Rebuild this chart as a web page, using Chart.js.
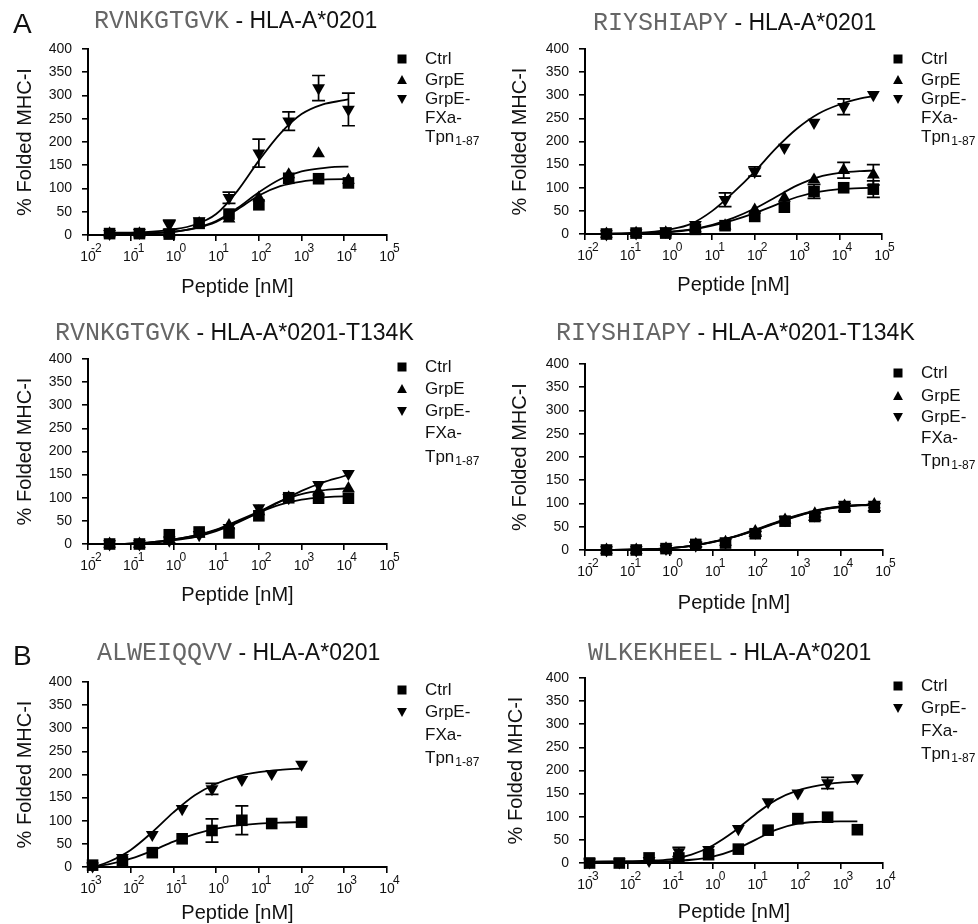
<!DOCTYPE html>
<html>
<head>
<meta charset="utf-8">
<script src="https://cdn.jsdelivr.net/npm/chart.js@4.4.0/dist/chart.umd.min.js"></script>
<style>
    body { margin: 0; background: #fff; width: 978px; height: 924px; position: relative; overflow: hidden; }
    canvas { position: absolute; }
</style>
</head>
<body>
<canvas id="c1"></canvas>
<canvas id="c2"></canvas>
<canvas id="c3"></canvas>
<canvas id="c4"></canvas>
<canvas id="c5"></canvas>
<canvas id="c6"></canvas>
<script>
// Peptide titration curves - folded MHC-I vs peptide concentration

// Decade ticks for the log x axes
const decadesA = [1e-2, 1e-1, 1e0, 1e1, 1e2, 1e3, 1e4, 1e5];
const decadesB = [1e-3, 1e-2, 1e-1, 1e0, 1e1, 1e2, 1e3, 1e4];

// Legend names
const legendCtrl = ['Ctrl'];
const legendGrpE = ['GrpE'];
const legendFXa = ['GrpE-', 'FXa-', 'Tpn'];
const legendFXaSub = '1-87';

// Peptide concentrations (nM)
const concA = [0.032, 0.16, 0.8, 4, 20, 100, 500, 2500, 12500];
const concB = [0.032, 0.16, 0.8, 4, 20, 100, 500, 2500, 12500, 62500];
const concC = [0.00128, 0.0064, 0.032, 0.16, 0.8, 4, 20, 100];
const concD = [0.00128, 0.0064, 0.032, 0.16, 0.8, 4, 20, 100, 500, 2500];

// x positions where the fitted curves were read
const fitXA = [0.032, 0.1, 0.316, 1, 3.16, 10, 31.6, 100, 316, 1000, 3162, 10000, 12500];
const fitXB = [0.032, 0.1, 0.316, 1, 3.16, 10, 31.6, 100, 316, 1000, 3162, 10000, 31623, 62500];
const fitXC = [0.00135, 0.00316, 0.01, 0.0316, 0.1, 0.316, 1, 3.16, 10, 31.6, 100];
const fitXD = [0.00128, 0.01, 0.0316, 0.1, 0.316, 1, 3.16, 10, 31.6, 100, 316, 1000, 2500];

// Panel 1: RVNKGTGVK - HLA-A*0201
const ctrl1 = [3, 3, 2, 25, 45, 65, 122, 121, 112];
const ctrl1Err = [0, 0, 0, 0, 0, 0, 0, 0, 0];
const grpE1 = [3, 3, 3, 25, 35, 80, 130, 175, 118];
const grpE1Err = [0, 0, 0, 0, 0, 0, 0, 0, 0];
const fxa1 = [3, 5, 22, 30, 80, 176, 245, 316, 270];
const fxa1Err = [0, 0, 10, 0, 12, 30, 20, 27, 35];
const fitCtrl1 = [3, 3, 4, 7, 14, 28, 55, 85, 105, 115, 119, 120, 120];
const fitGrpE1 = [3, 3, 4, 7, 15, 30, 58, 92, 120, 137, 144, 147, 147];
const fitFxa1 = [5, 5, 7, 12, 22, 45, 95, 160, 218, 260, 281, 290, 292];

// Panel 2: RIYSHIAPY - HLA-A*0201
const ctrl2 = [0, 2, 2, 10, 18, 38, 58, 92, 100, 97];
const ctrl2Err = [0, 0, 0, 0, 0, 0, 0, 15, 0, 18];
const grpE2 = [0, 2, 3, 12, 18, 52, 78, 117, 138, 128];
const grpE2Err = [0, 0, 0, 0, 0, 0, 0, 0, 17, 22];
const fxa2 = [0, 2, 6, 20, 74, 135, 187, 241, 275, 301];
const fxa2Err = [0, 0, 0, 0, 15, 10, 0, 0, 17, 0];
const fitCtrl2 = [0, 1, 2, 4, 9, 18, 30, 45, 63, 80, 91, 97, 99, 100];
const fitGrpE2 = [0, 1, 2, 5, 10, 20, 35, 55, 80, 105, 123, 132, 136, 137];
const fitFxa2 = [1, 2, 4, 10, 22, 50, 90, 135, 185, 228, 260, 280, 293, 298];

// Panel 3: RVNKGTGVK - HLA-A*0201-T134K
const ctrl3 = [0, 0, 20, 26, 24, 61, 100, 99, 99];
const grpE3 = [0, 0, 10, 22, 40, 70, 100, 113, 120];
const fxa3 = [0, 0, 8, 20, 35, 78, 100, 128, 152];
const noErr9 = [0, 0, 0, 0, 0, 0, 0, 0, 0];
const fitCtrl3 = [0, 1, 4, 10, 18, 30, 48, 68, 85, 96, 101, 103, 103];
const fitGrpE3 = [0, 1, 4, 10, 18, 31, 50, 70, 92, 108, 116, 120, 121];
const fitFxa3 = [0, 1, 3, 8, 15, 28, 46, 68, 92, 115, 133, 147, 150];

// Panel 4: RIYSHIAPY - HLA-A*0201-T134K
const ctrl4 = [0, 0, 3, 12, 15, 35, 62, 72, 92, 92];
const ctrl4Err = [0, 0, 0, 5, 0, 5, 0, 8, 8, 8];
const grpE4 = [0, 0, 3, 12, 17, 40, 65, 78, 95, 98];
const fxa4 = [0, 0, 3, 10, 16, 38, 65, 75, 98, 98];
const noErr10 = [0, 0, 0, 0, 0, 0, 0, 0, 0, 0];
const fitCtrl4 = [0, 1, 2, 4, 9, 17, 28, 42, 58, 73, 85, 92, 96, 97];
const fitGrpE4 = [0, 1, 2, 4, 9, 18, 29, 44, 60, 75, 87, 94, 97, 98];
const fitFxa4 = [0, 1, 2, 4, 9, 17, 28, 43, 59, 74, 86, 93, 97, 98];

// Panel 5: ALWEIQQVV - HLA-A*0201
const ctrl5 = [4, 11, 31, 61, 79, 101, 94, 97];
const ctrl5Err = [0, 0, 0, 0, 25, 31, 0, 0];
const fxa5 = [2, 20, 70, 126, 169, 189, 202, 222];
const fxa5Err = [0, 0, 0, 0, 12, 0, 0, 0];
const fitCtrl5 = [0, 6, 18, 35, 55, 71, 83, 90, 94, 96, 97];
const fitFxa5 = [0, 12, 37, 75, 118, 155, 180, 196, 205, 210, 213];

// Panel 6: WLKEKHEEL - HLA-A*0201
const ctrl6 = [0, 0, 11, 11, 18, 30, 71, 96, 99, 72];
const fxa6 = [2, 2, 5, 24, 29, 74, 132, 151, 173, 184];
const fxa6Err = [0, 0, 0, 10, 0, 0, 0, 0, 12, 0];
const fitCtrl6 = [2, 2, 3, 4, 7, 14, 28, 50, 72, 85, 89, 90, 90];
const fitFxa6 = [3, 4, 5, 8, 18, 38, 68, 105, 137, 157, 168, 174, 176];

const SANS = '"Liberation Sans", Arial, sans-serif';
const MONO = '"Liberation Mono", "Courier New", monospace';
const INK = '#111';

// Layout of each panel (absolute page pixels)
const panels = [
    {
        id: 'c1', box: [0, 0, 489, 305], area: [88, 49, 387, 235], decades: decadesA,
        letter: 'A', letterPos: [13, 33], mono: 'RVNKGTGVK', sans: ' - HLA-A*0201', titlePos: [94, 28],
        legendX: [402, 425], legendRows: [59, 80, 99, 118, 137], xTitleY: 287, yTitleX: 25,
        series: [
            { kind: 'rect', legend: legendCtrl, x: concA, y: ctrl1, err: ctrl1Err, fx: fitXA, fy: fitCtrl1 },
            { kind: 'up', legend: legendGrpE, x: concA, y: grpE1, err: grpE1Err, fx: fitXA, fy: fitGrpE1 },
            { kind: 'down', legend: legendFXa, x: concA, y: fxa1, err: fxa1Err, fx: fitXA, fy: fitFxa1 }
        ]
    },
    {
        id: 'c2', box: [489, 0, 489, 305], area: [585, 49, 882, 234], decades: decadesA,
        mono: 'RIYSHIAPY', sans: ' - HLA-A*0201', titlePos: [593, 30],
        legendX: [898, 921], legendRows: [59, 80, 99, 118, 137], xTitleY: 285, yTitleX: 520,
        series: [
            { kind: 'rect', legend: legendCtrl, x: concB, y: ctrl2, err: ctrl2Err, fx: fitXB, fy: fitCtrl2 },
            { kind: 'up', legend: legendGrpE, x: concB, y: grpE2, err: grpE2Err, fx: fitXB, fy: fitGrpE2 },
            { kind: 'down', legend: legendFXa, x: concB, y: fxa2, err: fxa2Err, fx: fitXB, fy: fitFxa2 }
        ]
    },
    {
        id: 'c3', box: [0, 300, 489, 315], area: [88, 359, 387, 544], decades: decadesA,
        mono: 'RVNKGTGVK', sans: ' - HLA-A*0201-T134K', titlePos: [55, 340],
        legendX: [402, 425], legendRows: [367, 389, 411, 433, 457], xTitleY: 595, yTitleX: 25,
        series: [
            { kind: 'rect', legend: legendCtrl, x: concA, y: ctrl3, err: noErr9, fx: fitXA, fy: fitCtrl3 },
            { kind: 'up', legend: legendGrpE, x: concA, y: grpE3, err: noErr9, fx: fitXA, fy: fitGrpE3 },
            { kind: 'down', legend: legendFXa, x: concA, y: fxa3, err: noErr9, fx: fitXA, fy: fitFxa3 }
        ]
    },
    {
        id: 'c4', box: [489, 300, 489, 315], area: [585, 364, 883, 550], decades: decadesA,
        mono: 'RIYSHIAPY', sans: ' - HLA-A*0201-T134K', titlePos: [556, 340],
        legendX: [898, 921], legendRows: [373, 396, 417, 438, 461], xTitleY: 603, yTitleX: 520,
        series: [
            { kind: 'rect', legend: legendCtrl, x: concB, y: ctrl4, err: ctrl4Err, fx: fitXB, fy: fitCtrl4 },
            { kind: 'up', legend: legendGrpE, x: concB, y: grpE4, err: noErr10, fx: fitXB, fy: fitGrpE4 },
            { kind: 'down', legend: legendFXa, x: concB, y: fxa4, err: noErr10, fx: fitXB, fy: fitFxa4 }
        ]
    },
    {
        id: 'c5', box: [0, 610, 489, 314], area: [88, 682, 387, 867], decades: decadesB,
        letter: 'B', letterPos: [13, 665], mono: 'ALWEIQQVV', sans: ' - HLA-A*0201', titlePos: [97, 660],
        legendX: [402, 425], legendRows: [690, 712, 735, 758], xTitleY: 913, yTitleX: 25,
        series: [
            { kind: 'rect', legend: legendCtrl, x: concC, y: ctrl5, err: ctrl5Err, fx: fitXC, fy: fitCtrl5 },
            { kind: 'down', legend: legendFXa, x: concC, y: fxa5, err: fxa5Err, fx: fitXC, fy: fitFxa5 }
        ]
    },
    {
        id: 'c6', box: [489, 610, 489, 314], area: [585, 678, 883, 863], decades: decadesB,
        mono: 'WLKEKHEEL', sans: ' - HLA-A*0201', titlePos: [588, 660],
        legendX: [898, 921], legendRows: [686, 708, 731, 754], xTitleY: 912, yTitleX: 516,
        series: [
            { kind: 'rect', legend: legendCtrl, x: concD, y: ctrl6, err: noErr10, fx: fitXD, fy: fitCtrl6 },
            { kind: 'down', legend: legendFXa, x: concD, y: fxa6, err: fxa6Err, fx: fitXD, fy: fitFxa6 }
        ]
    }
];

// Small filled marker for the legend
function drawMarker(ctx, kind, x, y, s) {
    ctx.beginPath();
    if (kind === 'rect') {
        ctx.rect(x - s, y - s, 2 * s, 2 * s);
    } else if (kind === 'up') {
        ctx.moveTo(x, y - s * 1.1);
        ctx.lineTo(x + s * 1.1, y + s * 0.9);
        ctx.lineTo(x - s * 1.1, y + s * 0.9);
        ctx.closePath();
    } else {
        ctx.moveTo(x, y + s * 1.1);
        ctx.lineTo(x + s * 1.1, y - s * 0.9);
        ctx.lineTo(x - s * 1.1, y - s * 0.9);
        ctx.closePath();
    }
    ctx.fill();
}

function buildPanel(p) {
    const [ox, oy, w, h] = p.box;
    const [L, T, R, B] = p.area;
    const canvas = document.getElementById(p.id);
    canvas.width = w;
    canvas.height = h;
    canvas.style.left = ox + 'px';
    canvas.style.top = oy + 'px';

    const datasets = [];
    // fitted curves (drawn below the markers)
    p.series.forEach(s => {
        datasets.push({
            label: s.legend.join(' ') + ' fit',
            data: s.fx.map((x, i) => ({ x: x, y: s.fy[i] })),
            showLine: true,
            borderColor: '#000',
            borderWidth: 1.8,
            pointRadius: 0,
            cubicInterpolationMode: 'monotone',
            clip: false,
            order: 2
        });
    });
    // measured points
    p.series.forEach(s => {
        datasets.push({
            label: s.legend.join(' '),
            data: s.x.map((x, i) => ({ x: x, y: s.y[i] })),
            errors: s.err,
            showLine: false,
            pointStyle: s.kind === 'rect' ? 'rect' : 'triangle',
            pointRotation: s.kind === 'down' ? 180 : 0,
            pointRadius: s.kind === 'rect' ? 8.2 : 7.4,
            pointBackgroundColor: '#000',
            pointBorderColor: '#000',
            pointBorderWidth: 0,
            clip: false,
            order: 1
        });
    });

    const decor = {
        id: 'decor' + p.id,
        beforeDatasetsDraw(chart) {
            // error bars
            const ctx = chart.ctx;
            const ys = chart.scales.y;
            ctx.save();
            ctx.strokeStyle = '#000';
            ctx.lineWidth = 1.7;
            chart.data.datasets.forEach((ds, di) => {
                if (!ds.errors) return;
                const meta = chart.getDatasetMeta(di);
                ds.errors.forEach((e, j) => {
                    if (!e) return;
                    const pt = meta.data[j];
                    const v = ds.data[j].y;
                    const yTop = ys.getPixelForValue(v + e);
                    const yBot = ys.getPixelForValue(Math.max(0, v - e));
                    ctx.beginPath();
                    ctx.moveTo(pt.x, yTop); ctx.lineTo(pt.x, yBot);
                    ctx.moveTo(pt.x - 6.5, yTop); ctx.lineTo(pt.x + 6.5, yTop);
                    ctx.moveTo(pt.x - 6.5, yBot); ctx.lineTo(pt.x + 6.5, yBot);
                    ctx.stroke();
                });
            });
            ctx.restore();
        },
        afterDraw(chart) {
            const ctx = chart.ctx;
            const xs = chart.scales.x;
            ctx.save();
            ctx.fillStyle = INK;

            // superscript exponents for the "10" tick labels
            ctx.font = '12px ' + SANS;
            ctx.textAlign = 'left';
            ctx.textBaseline = 'alphabetic';
            p.decades.forEach(v => {
                const ex = Math.round(Math.log10(v));
                const px = xs.getPixelForValue(v);
                ctx.fillText(String(ex), px + (ex < 0 ? 3 : 6), B - oy + 17);
            });

            // panel letter
            if (p.letter) {
                ctx.font = '28px ' + SANS;
                ctx.fillText(p.letter, p.letterPos[0] - ox, p.letterPos[1] - oy);
            }

            // title: peptide in mono grey, allele in sans black
            const tx = p.titlePos[0] - ox;
            const ty = p.titlePos[1] - oy;
            ctx.font = '25px ' + MONO;
            ctx.fillStyle = '#666';
            ctx.fillText(p.mono, tx, ty);
            const mw = ctx.measureText(p.mono).width;
            ctx.font = '23px ' + SANS;
            ctx.fillStyle = INK;
            ctx.fillText(p.sans, tx + mw, ty);

            // legend
            let row = 0;
            ctx.textBaseline = 'middle';
            p.series.forEach(s => {
                const my = p.legendRows[row] - oy;
                ctx.fillStyle = '#000';
                drawMarker(ctx, s.kind, p.legendX[0] - ox, my, 4.5);
                ctx.fillStyle = INK;
                s.legend.forEach((line, li) => {
                    const ly = p.legendRows[row] - oy;
                    const lx = p.legendX[1] - ox;
                    ctx.font = '17px ' + SANS;
                    ctx.fillText(line, lx, ly);
                    if (s.legend === legendFXa && li === s.legend.length - 1) {
                        const lw = ctx.measureText(line).width;
                        ctx.font = '12px ' + SANS;
                        ctx.fillText(legendFXaSub, lx + lw + 1, ly + 5);
                    }
                    row++;
                });
            });
            ctx.restore();
        }
    };

    return new Chart(canvas.getContext('2d'), {
        type: 'scatter',
        data: { datasets: datasets },
        options: {
            responsive: false,
            animation: false,
            events: [],
            layout: { padding: { left: 0, top: T - oy, right: ox + w - R, bottom: 0 } },
            plugins: {
                legend: { display: false },
                tooltip: { enabled: false }
            },
            scales: {
                x: {
                    type: 'logarithmic',
                    position: 'bottom',
                    min: p.decades[0],
                    max: p.decades[p.decades.length - 1],
                    afterBuildTicks: s => { s.ticks = p.decades.map(v => ({ value: v })); },
                    afterFit: s => { s.height = oy + h - B; s.paddingLeft = 0; s.paddingRight = 0; },
                    ticks: {
                        autoSkip: false, maxRotation: 0, padding: 8, color: INK,
                        font: { family: SANS, size: 14 },
                        callback: () => '10'
                    },
                    grid: { drawOnChartArea: false, drawTicks: true, tickLength: 6, color: '#000', lineWidth: 1.6 },
                    border: { display: true, color: '#000', width: 2 },
                    title: {
                        display: true, text: 'Peptide [nM]', color: INK,
                        font: { family: SANS, size: 20 },
                        padding: { top: 0, bottom: h - (p.xTitleY - oy) - 12 }
                    }
                },
                y: {
                    min: 0,
                    max: 400,
                    afterFit: s => { s.width = L - ox; s.paddingTop = 0; s.paddingBottom = 0; },
                    ticks: { stepSize: 50, padding: 10, color: INK, font: { family: SANS, size: 14 } },
                    grid: { drawOnChartArea: false, drawTicks: true, tickLength: 6, color: '#000', lineWidth: 1.6 },
                    border: { display: true, color: '#000', width: 2 },
                    title: {
                        display: true, text: '% Folded MHC-I', color: INK,
                        font: { family: SANS, size: 20 },
                        padding: { top: p.yTitleX - ox - 12, bottom: 0 }
                    }
                }
            }
        },
        plugins: [decor]
    });
}

panels.forEach(buildPanel);
</script>
</body>
</html>
